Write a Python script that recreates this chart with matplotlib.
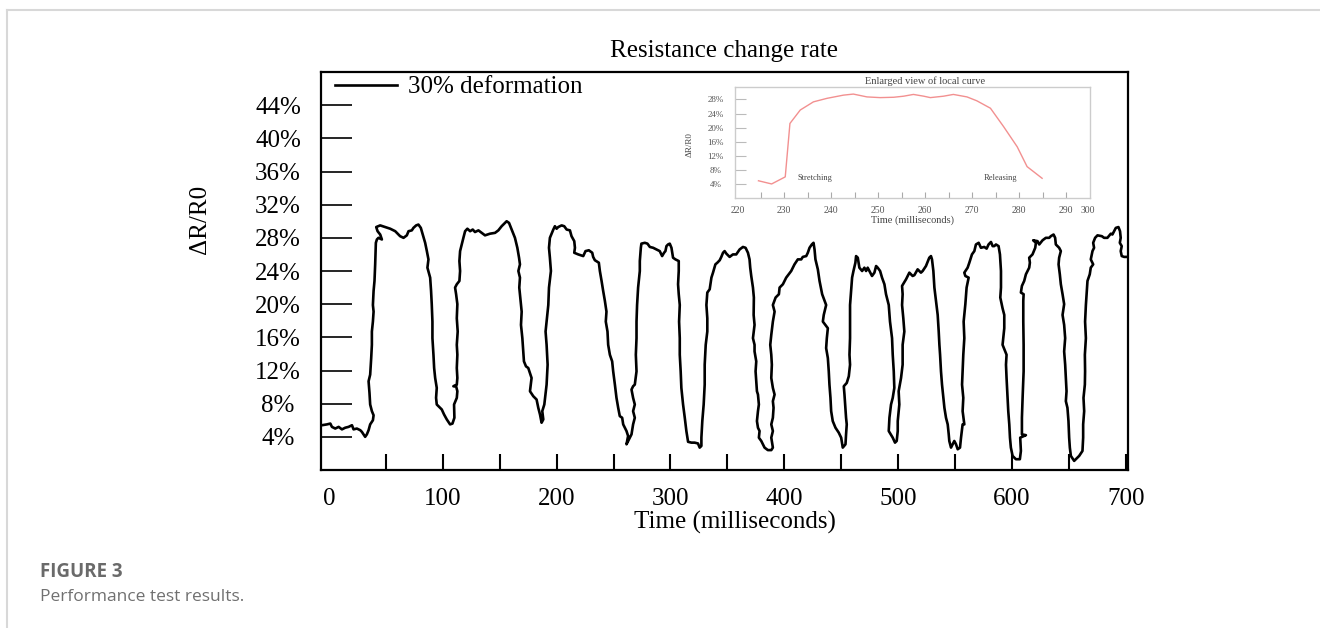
import matplotlib
matplotlib.use("Agg")
import matplotlib.pyplot as plt
from matplotlib.lines import Line2D

plt.rcParams['font.family'] = ['Liberation Serif', 'DejaVu Serif']

# main curve: time (ms) and resistance change (%)
t_ms = [
    -6.2, -1.8, 1.2, 2.6, 5.5, 8.5, 11.4, 14.3, 17.2, 20.2, 21.6, 24.5, 27.5, 28.9, 30.4, 31.8, 33.3, 34.8, 36.2, 38.6,
    39.2, 37.7, 36.2, 35.6, 34.8, 36.2, 37.1, 37.7, 37.7, 38.6, 39.2, 38.6, 39.2, 40.0, 40.6, 41.2, 42.1, 43.5, 46.5, 45.0,
    42.7, 41.5, 45.0, 49.4, 53.8, 58.2, 62.5, 65.5, 68.4, 69.9, 72.8, 74.2, 76.6, 78.6, 80.7, 82.4, 84.5, 86.0, 87.4, 86.5,
    88.9, 89.7, 90.3, 90.9, 90.9, 91.8, 92.4, 93.3, 94.7, 94.1, 94.7, 96.2, 99.1, 101.1, 103.5, 106.4, 108.5, 110.2, 109.9, 112.3,
    112.8, 111.7, 109.3, 112.3, 112.8, 112.3, 112.8, 112.3, 113.1, 112.3, 112.8, 111.7, 110.8, 112.3, 114.6, 115.2, 114.6, 115.2, 116.6, 118.1,
    119.6, 121.6, 124.0, 126.3, 128.3, 131.3, 134.2, 137.1, 141.5, 145.9, 148.8, 151.7, 154.7, 156.1, 158.2, 160.5, 163.4, 165.5, 167.0, 167.8,
    166.4, 167.8, 167.2, 168.4, 169.3, 168.7, 169.9, 170.7, 171.3, 173.1, 175.1, 178.0, 176.6, 179.5, 182.4, 183.9, 185.4, 186.8, 188.3, 187.4,
    189.2, 191.2, 192.1, 191.2, 190.3, 192.7, 193.3, 195.0, 194.1, 193.3, 194.1, 197.1, 198.5, 200.0, 201.4, 204.4, 206.7, 208.8, 211.7, 213.1,
    215.5, 216.1, 215.5, 219.0, 223.4, 225.4, 228.3, 231.3, 232.1, 233.6, 237.1, 238.0, 239.5, 240.9, 242.4, 243.8, 243.2, 244.7, 245.3, 246.8,
    248.8, 249.7, 251.2, 252.6, 254.1, 255.5, 257.6, 258.5, 261.4, 262.8, 261.4, 264.3, 265.8, 267.2, 268.7, 267.2, 268.7, 267.2, 265.8, 267.2,
    268.7, 270.2, 269.6, 270.2, 270.2, 270.7, 271.6, 273.1, 273.1, 274.0, 274.5, 277.5, 279.8, 281.9, 284.8, 287.7, 290.6, 292.7, 294.4, 295.6,
    296.5, 297.9, 299.4, 300.9, 302.3, 304.4, 307.3, 307.3, 306.7, 307.3, 308.2, 307.6, 308.2, 308.2, 309.0, 309.6, 311.1, 312.6, 314.0, 315.5,
    318.4, 321.3, 324.2, 325.7, 327.2, 327.2, 328.0, 329.2, 330.1, 330.1, 331.0, 332.4, 332.4, 331.6, 332.4, 334.5, 336.0, 337.4, 339.5, 341.2,
    343.3, 344.7, 346.2, 347.6, 349.1, 352.0, 354.9, 357.8, 360.8, 363.7, 366.0, 368.1, 369.5, 370.1, 371.0, 372.5, 373.3, 373.1, 373.9, 372.5,
    373.9, 373.9, 375.4, 374.8, 375.4, 376.0, 376.9, 377.7, 376.9, 376.0, 376.9, 378.3, 377.7, 379.8, 382.7, 385.6, 388.6, 390.0, 388.6, 390.0,
    388.6, 390.0, 390.6, 390.0, 391.5, 390.0, 388.6, 389.1, 388.6, 387.7, 388.6, 390.0, 391.5, 390.0, 392.4, 395.3, 395.9, 398.8, 401.7, 406.1,
    409.0, 411.9, 414.9, 416.3, 419.3, 420.7, 422.2, 424.2, 425.7, 426.6, 427.4, 429.5, 431.0, 433.3, 436.8, 434.7, 433.9, 438.3, 437.4, 436.8,
    438.3, 439.1, 439.7, 440.6, 441.2, 442.6, 445.0, 447.9, 450.0, 451.4, 453.8, 454.3, 454.9, 454.3, 453.5, 452.9, 452.3, 454.9, 456.7, 457.8,
    457.3, 457.8, 457.8, 457.8, 458.7, 459.6, 460.8, 462.5, 463.1, 464.6, 466.0, 468.4, 470.4, 471.9, 473.3, 474.8, 477.1, 479.2, 480.7, 482.1,
    484.2, 485.9, 488.0, 489.4, 491.8, 492.9, 494.7, 495.3, 496.2, 496.7, 495.3, 493.8, 492.4, 491.8, 495.3, 497.3, 498.8, 499.7, 499.7, 501.1,
    500.5, 502.6, 504.0, 504.0, 505.5, 504.6, 503.5, 504.0, 503.5, 507.0, 509.9, 512.8, 514.3, 517.2, 520.1, 521.6, 524.5, 527.4, 528.9, 529.8,
    531.0, 531.9, 533.3, 534.8, 535.7, 536.3, 536.9, 537.7, 538.6, 539.8, 540.7, 542.1, 543.6, 544.5, 545.0, 546.5, 548.0, 549.4, 550.9, 552.4,
    554.4, 555.3, 556.7, 558.2, 556.7, 557.3, 556.2, 556.7, 557.3, 558.2, 557.6, 559.1, 560.2, 562.0, 559.1, 558.2, 561.1, 562.6, 564.9, 567.0,
    568.4, 570.8, 572.8, 575.7, 577.8, 579.5, 581.6, 583.1, 584.5, 586.0, 588.3, 589.5, 590.4, 590.4, 589.8, 591.8, 593.3, 593.3, 592.4, 591.8,
    594.2, 595.3, 594.8, 595.3, 596.2, 596.8, 597.7, 598.3, 599.1, 600.6, 603.5, 607.0, 607.9, 607.3, 612.3, 608.8, 608.8, 609.4, 610.3, 610.3,
    610.0, 610.0, 610.3, 607.9, 608.8, 610.8, 612.3, 615.2, 615.8, 615.2, 618.1, 620.5, 621.1, 618.7, 622.5, 624.0, 626.9, 629.8, 632.8, 634.2,
    636.6, 638.0, 638.6, 641.5, 643.0, 641.5, 641.0, 642.1, 643.0, 644.5, 645.9, 644.5, 645.9, 646.8, 645.9, 646.8, 647.4, 648.0, 647.4, 648.8,
    649.7, 650.3, 650.9, 651.8, 654.7, 656.2, 659.1, 662.0, 662.6, 662.6, 663.5, 662.9, 664.1, 664.3, 664.1, 665.0, 664.3, 665.0, 665.8, 666.4,
    668.4, 669.3, 671.4, 669.3, 670.8, 672.2, 671.4, 673.1, 675.2, 679.0, 681.0, 683.9, 686.9, 688.3, 689.8, 691.3, 693.6, 695.0, 695.6, 694.8,
    696.5, 695.6, 696.5, 698.6, 700.6,
]
dr_pct = [
    5.4, 5.5, 5.6, 5.2, 5.0, 5.2, 4.9, 5.1, 5.2, 5.4, 4.9, 5.0, 4.8, 4.6, 4.3, 4.0, 4.3, 4.8, 5.5, 6.0,
    6.6, 7.1, 7.9, 9.3, 10.7, 11.5, 13.5, 15.1, 16.7, 17.9, 19.1, 19.9, 21.6, 22.8, 24.8, 27.4, 27.8, 28.0, 27.8, 28.4,
    28.8, 29.3, 29.5, 29.3, 29.1, 28.8, 28.2, 28.0, 28.3, 28.8, 28.9, 29.2, 29.5, 29.6, 29.2, 28.4, 27.4, 26.4, 25.4, 24.4,
    23.2, 21.6, 20.0, 17.9, 15.9, 13.9, 12.3, 11.1, 9.9, 8.7, 7.9, 7.7, 7.3, 6.7, 6.1, 5.5, 5.6, 6.3, 7.9, 8.7,
    9.5, 10.1, 10.1, 10.3, 11.1, 12.3, 13.9, 15.1, 16.7, 18.3, 20.0, 21.2, 22.0, 22.4, 22.8, 24.0, 25.2, 26.4, 27.2, 28.0,
    28.8, 29.1, 28.8, 29.0, 28.7, 28.9, 28.6, 28.3, 28.5, 28.6, 28.9, 29.4, 29.8, 30.0, 29.8, 29.0, 28.0, 26.8, 25.6, 24.8,
    24.0, 23.2, 22.0, 20.4, 19.1, 17.5, 15.9, 14.3, 13.1, 12.5, 12.3, 11.1, 9.5, 8.9, 8.5, 7.5, 6.7, 5.7, 6.1, 7.1,
    7.9, 10.3, 12.7, 15.1, 16.7, 19.9, 22.0, 24.0, 25.6, 26.8, 28.0, 29.0, 29.4, 29.1, 29.3, 29.5, 29.4, 29.0, 28.9, 28.2,
    27.6, 26.8, 26.2, 26.0, 25.8, 26.4, 26.5, 26.2, 25.7, 25.3, 25.0, 24.0, 22.8, 21.6, 20.4, 19.1, 17.9, 16.7, 15.1, 13.9,
    13.1, 11.9, 10.3, 8.7, 7.5, 6.5, 6.3, 5.5, 4.7, 4.1, 3.1, 3.9, 4.3, 5.5, 6.3, 7.1, 7.9, 8.7, 9.7, 10.1,
    10.3, 11.9, 13.9, 15.9, 17.9, 19.9, 22.0, 24.0, 25.2, 26.8, 27.3, 27.4, 27.3, 26.9, 26.8, 26.6, 26.4, 25.8, 26.2, 26.4,
    27.0, 27.2, 27.3, 26.8, 25.6, 25.4, 25.2, 24.0, 22.4, 21.2, 19.9, 17.9, 15.9, 13.9, 11.9, 9.9, 7.9, 6.3, 4.7, 3.4,
    3.3, 3.3, 3.2, 2.7, 2.9, 3.9, 5.9, 7.9, 10.3, 12.7, 15.1, 16.7, 18.3, 19.9, 21.4, 21.8, 23.2, 23.8, 24.8, 25.0,
    25.3, 25.7, 26.2, 26.4, 26.1, 25.7, 26.0, 26.0, 26.6, 26.9, 26.8, 26.2, 25.4, 24.4, 23.4, 22.0, 20.8, 18.7, 17.5, 15.9,
    15.1, 14.3, 13.1, 11.9, 10.7, 9.5, 9.1, 7.9, 7.1, 5.9, 5.1, 4.7, 3.9, 3.5, 2.7, 2.4, 2.4, 2.7, 3.9, 4.7,
    5.5, 6.3, 7.5, 8.3, 9.1, 9.9, 11.1, 12.7, 13.9, 15.1, 16.3, 17.9, 19.1, 19.9, 20.8, 21.2, 22.0, 22.4, 23.2, 24.0,
    24.8, 25.4, 25.4, 25.7, 25.8, 26.2, 26.8, 27.2, 27.4, 26.6, 25.4, 24.2, 22.8, 21.2, 19.9, 18.7, 17.9, 17.1, 15.9, 14.7,
    13.5, 11.9, 10.3, 8.7, 7.1, 5.9, 5.1, 4.5, 3.9, 2.7, 3.1, 4.3, 5.5, 6.3, 7.9, 9.1, 10.1, 10.5, 11.3, 12.7,
    13.9, 15.9, 17.9, 19.9, 21.6, 23.2, 24.0, 25.0, 25.8, 25.6, 24.4, 24.0, 24.4, 24.0, 24.4, 24.0, 23.4, 23.8, 24.6, 24.4,
    24.0, 23.2, 22.4, 21.2, 19.9, 17.9, 15.9, 13.9, 11.9, 9.9, 8.7, 7.9, 6.3, 4.7, 3.9, 3.3, 3.5, 4.7, 5.9, 7.9,
    9.5, 11.1, 12.7, 15.1, 16.7, 18.3, 19.9, 21.2, 22.2, 23.0, 23.8, 23.4, 23.5, 24.2, 23.8, 24.0, 24.6, 25.6, 25.8, 25.4,
    24.0, 22.0, 20.4, 18.7, 16.7, 15.1, 13.9, 11.9, 10.3, 8.7, 7.5, 6.3, 5.5, 4.3, 3.5, 2.7, 3.1, 3.5, 3.1, 2.5,
    2.7, 3.9, 5.5, 5.5, 7.1, 8.7, 10.3, 11.9, 13.9, 15.9, 17.9, 20.0, 22.0, 23.2, 23.4, 23.8, 24.4, 25.0, 26.0, 26.4,
    27.2, 27.4, 26.8, 26.9, 26.7, 27.2, 27.5, 27.0, 27.0, 27.2, 27.0, 26.0, 24.0, 22.0, 20.8, 19.5, 18.7, 17.1, 15.9, 15.1,
    14.3, 13.9, 12.7, 11.1, 8.7, 7.1, 5.5, 3.9, 2.7, 1.7, 1.3, 1.3, 2.3, 3.9, 4.2, 4.3, 6.3, 8.7, 11.9, 15.1,
    17.9, 20.4, 21.2, 21.4, 22.2, 22.8, 23.6, 24.4, 25.0, 25.6, 26.0, 26.8, 27.4, 27.7, 27.6, 27.2, 27.7, 28.0, 28.0, 28.2,
    28.4, 28.0, 27.2, 26.8, 26.4, 25.6, 24.8, 23.6, 22.4, 21.2, 20.0, 18.7, 17.5, 15.9, 14.3, 12.7, 11.1, 9.5, 8.3, 7.5,
    5.9, 3.9, 2.7, 1.7, 1.1, 1.3, 1.7, 2.3, 3.9, 5.5, 7.1, 8.7, 10.3, 11.9, 13.9, 15.9, 17.9, 19.9, 21.6, 22.8,
    23.6, 24.4, 24.8, 25.4, 26.4, 26.8, 27.4, 28.0, 28.3, 28.2, 28.0, 28.0, 28.5, 28.4, 28.8, 29.2, 29.3, 28.8, 28.0, 27.4,
    27.0, 26.4, 25.8, 25.7, 25.7,
]

x_ticks = [0, 100, 200, 300, 400, 500, 600, 700]
y_ticks = [4, 8, 12, 16, 20, 24, 28, 32, 36, 40, 44]

# enlarged view (inset)
in_t = [224.5, 227.3, 230.2, 231.2, 233.4, 236.2, 239.1, 242.6, 244.7, 247.6, 250.4, 253.3, 255.4,
        257.5, 259.7, 261.1, 263.9, 266.0, 268.9, 271.0, 273.9, 276.7, 279.6, 281.7, 284.9]
in_r = [5.0, 4.1, 6.1, 21.2, 25.0, 27.3, 28.3, 29.2, 29.5, 28.7, 28.5, 28.6, 28.9,
        29.4, 28.9, 28.5, 28.9, 29.4, 28.7, 27.6, 25.5, 20.3, 14.6, 9.0, 5.7]
in_x_pos = [220, 230, 240, 250, 260, 270, 280, 290, 294.6]
in_x_labels = ['220', '230', '240', '250', '260', '270', '280', '290', '300']
in_y_ticks = [4, 8, 12, 16, 20, 24, 28]

W, H = 1320, 628
fig = plt.figure(figsize=(W / 100, H / 100), dpi=100)

# page frame (top and left rule)
fig.add_artist(Line2D([7 / W, 1], [1 - 10 / H, 1 - 10 / H], transform=fig.transFigure, color='#d8d8d8', lw=1.5))
fig.add_artist(Line2D([7 / W, 7 / W], [0, 1 - 10 / H], transform=fig.transFigure, color='#d8d8d8', lw=1.5))

ax = fig.add_axes([321 / W, 1 - 470 / H, 807 / W, 398 / H])
ax.plot(t_ms, dr_pct, color='black', lw=1.9, label='30% deformation')
ax.set_xlim(-7, 702)
ax.set_ylim(0, 48)

fs = 18
ax.xaxis.remove_overlapping_locs = False
ax.set_xticks(x_ticks)
ax.set_xticklabels([str(v) for v in x_ticks], fontsize=fs)
ax.set_xticks(range(50, 701, 50), minor=True)
ax.tick_params(axis='x', which='major', length=0, pad=13)
ax.tick_params(axis='x', which='minor', direction='in', length=11.5, width=1.5)
ax.set_yticks(y_ticks)
ax.set_yticklabels([f'{v}%' for v in y_ticks], fontsize=fs)
ax.tick_params(axis='y', direction='in', length=22, width=1.2, pad=31)
for lbl in ax.get_yticklabels():
    lbl.set_ha('center')
for s in ax.spines.values():
    s.set_linewidth(1.6)

ax.set_title('Resistance change rate', fontsize=fs, pad=11)
ax.set_xlabel('Time (milliseconds)', fontsize=fs)
ax.xaxis.set_label_coords(0.513, -0.131)
ax.xaxis.label.set_va('center')
ax.set_ylabel('ΔR/R0', fontsize=fs)
ax.yaxis.set_label_coords(-0.15, 0.63)
ax.yaxis.label.set_va('center')

ax.legend(loc='center left', bbox_to_anchor=(0.017, 0.962), frameon=False, fontsize=fs,
          handlelength=2.5, handletextpad=0.45, borderpad=0, borderaxespad=0)

# inset
gray = '#555555'
axin = fig.add_axes([735 / W, 1 - 198 / H, 355 / W, 111 / H])
axin.plot(in_t, in_r, color='#f29090', lw=1)
axin.set_xlim(219.5, 295.1)
axin.set_ylim(0.13, 31.5)
axin.xaxis.remove_overlapping_locs = False
axin.set_xticks(in_x_pos)
axin.set_xticklabels(in_x_labels, fontsize=7, color=gray)
axin.set_xticks(range(225, 291, 5), minor=True)
axin.tick_params(axis='x', which='major', length=0, pad=6)
axin.tick_params(axis='x', which='minor', direction='in', length=4, width=0.8, color='#aaaaaa')
axin.set_yticks(in_y_ticks)
axin.set_yticklabels([f'{v}%' for v in in_y_ticks], fontsize=6.5, color=gray)
axin.tick_params(axis='y', direction='in', length=8, width=0.8, color='#bbbbbb', pad=14)
for lbl in axin.get_yticklabels():
    lbl.set_ha('center')
for s in axin.spines.values():
    s.set_color('#cccccc')
    s.set_linewidth(1)
axin.set_title('Enlarged view of local curve', fontsize=7.5, color='#444444', pad=2, x=0.535)
axin.set_xlabel('Time (milliseconds)', fontsize=7.5, color='#444444')
axin.xaxis.set_label_coords(0.5, -0.2)
axin.xaxis.label.set_va('center')
axin.set_ylabel('ΔR/R0', fontsize=6.5, color='#444444')
axin.yaxis.set_label_coords(-0.127, 0.48)
axin.yaxis.label.set_va('center')
axin.text(236.6, 5.8, 'Stretching', fontsize=6, color='#444444', ha='center', va='center')
axin.text(276.0, 5.9, 'Releasing', fontsize=6, color='#444444', ha='center', va='center')

# caption
fig.text(40 / W, 1 - 572 / H, 'FIGURE 3', fontfamily='Open Sans', fontweight='bold',
         fontsize=13.5, color='#6a6a6a', va='center')
fig.text(40 / W, 1 - 597 / H, 'Performance test results.', fontfamily='Open Sans',
         fontsize=12.5, color='#707070', va='center')

fig.savefig('out.png', dpi=100)
